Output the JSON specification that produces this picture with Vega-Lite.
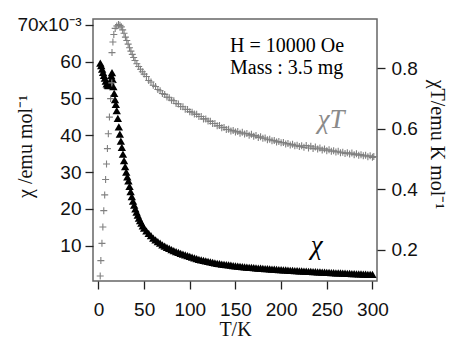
{
  "$schema": "https://vega.github.io/schema/vega-lite/v6.json",
  "width": 284,
  "height": 262,
  "autosize": {"type": "none"},
  "padding": {"left": 93, "top": 19, "right": 73, "bottom": 57},
  "config": {
    "font": "Liberation Serif",
    "view": {"stroke": "#666", "strokeWidth": 1.5},
    "style": {"guide-title": {"font": "Liberation Serif", "fontWeight": "normal"}, "guide-label": {"font": "Liberation Sans"}},
    "axis": {
      "domain": false,
      "grid": false,
      "tickColor": "#222",
      "tickWidth": 1.3,
      "tickSize": 8,
      "labelFont": "Liberation Sans",
      "labelFontSize": 19,
      "labelColor": "#111",
      "titleFont": "Liberation Serif",
      "titleFontSize": 20,
      "titleFontWeight": "normal",
      "titleColor": "#111"
    }
  },
  "datasets": {
    "chi": [
      {"T": 2, "chi": 0.0596}, {"T": 3, "chi": 0.0589}, {"T": 4, "chi": 0.058}, {"T": 5, "chi": 0.0571},
      {"T": 6, "chi": 0.0563}, {"T": 7, "chi": 0.0555}, {"T": 8, "chi": 0.0547}, {"T": 9, "chi": 0.054},
      {"T": 10, "chi": 0.0536}, {"T": 11, "chi": 0.0535}, {"T": 12, "chi": 0.0537}, {"T": 13, "chi": 0.0548},
      {"T": 14, "chi": 0.0562}, {"T": 14.8, "chi": 0.057}, {"T": 15.5, "chi": 0.0552}, {"T": 16.3, "chi": 0.0532},
      {"T": 17.2, "chi": 0.0514}, {"T": 18.1, "chi": 0.0497}, {"T": 19, "chi": 0.0484}, {"T": 20, "chi": 0.0467},
      {"T": 21.2, "chi": 0.0446}, {"T": 22.3, "chi": 0.0423}, {"T": 23.4, "chi": 0.0403}, {"T": 24.5, "chi": 0.0384},
      {"T": 25.6, "chi": 0.0367}, {"T": 26.8, "chi": 0.0349}, {"T": 28, "chi": 0.0331}, {"T": 29.2, "chi": 0.0315},
      {"T": 30.4, "chi": 0.03}, {"T": 31.6, "chi": 0.0287}, {"T": 32.8, "chi": 0.0276}, {"T": 34, "chi": 0.0261},
      {"T": 35.2, "chi": 0.0247}, {"T": 36.5, "chi": 0.0233}, {"T": 37.8, "chi": 0.0221}, {"T": 39.1, "chi": 0.021},
      {"T": 40.4, "chi": 0.02}, {"T": 41.7, "chi": 0.0191}, {"T": 43, "chi": 0.0183}, {"T": 44.3, "chi": 0.0175},
      {"T": 45.6, "chi": 0.0168}, {"T": 47, "chi": 0.0161}, {"T": 48.5, "chi": 0.0154}, {"T": 50, "chi": 0.0148},
      {"T": 52.5, "chi": 0.01405}, {"T": 55, "chi": 0.01335}, {"T": 57.5, "chi": 0.0127}, {"T": 60, "chi": 0.01205},
      {"T": 62.5, "chi": 0.0116}, {"T": 65, "chi": 0.0111}, {"T": 67.5, "chi": 0.0107}, {"T": 70, "chi": 0.01025},
      {"T": 72.5, "chi": 0.0099}, {"T": 75, "chi": 0.00955}, {"T": 77.5, "chi": 0.00925}, {"T": 80, "chi": 0.00895},
      {"T": 82.5, "chi": 0.00865}, {"T": 85, "chi": 0.0084}, {"T": 87.5, "chi": 0.00815}, {"T": 90, "chi": 0.0079},
      {"T": 92.5, "chi": 0.0077}, {"T": 95, "chi": 0.0075}, {"T": 97.5, "chi": 0.0073}, {"T": 100, "chi": 0.0071},
      {"T": 102.5, "chi": 0.0069}, {"T": 105, "chi": 0.0067}, {"T": 107.5, "chi": 0.0065}, {"T": 110, "chi": 0.0063},
      {"T": 112.5, "chi": 0.00615}, {"T": 115, "chi": 0.006}, {"T": 117.5, "chi": 0.00585}, {"T": 120, "chi": 0.0057},
      {"T": 122.5, "chi": 0.0056}, {"T": 125, "chi": 0.00545}, {"T": 127.5, "chi": 0.00535}, {"T": 130, "chi": 0.0052},
      {"T": 132.5, "chi": 0.0051}, {"T": 135, "chi": 0.005}, {"T": 137.5, "chi": 0.00492}, {"T": 140, "chi": 0.00485},
      {"T": 142.5, "chi": 0.00478}, {"T": 145, "chi": 0.0047}, {"T": 147.5, "chi": 0.0046}, {"T": 150, "chi": 0.0045},
      {"T": 152.5, "chi": 0.00444}, {"T": 155, "chi": 0.00438}, {"T": 157.5, "chi": 0.00431}, {"T": 160, "chi": 0.00425},
      {"T": 162.5, "chi": 0.00419}, {"T": 165, "chi": 0.00413}, {"T": 167.5, "chi": 0.00407}, {"T": 170, "chi": 0.00402},
      {"T": 172.5, "chi": 0.00397}, {"T": 175, "chi": 0.00392}, {"T": 177.5, "chi": 0.00387}, {"T": 180, "chi": 0.00383},
      {"T": 182.5, "chi": 0.00378}, {"T": 185, "chi": 0.00373}, {"T": 187.5, "chi": 0.00368}, {"T": 190, "chi": 0.00364},
      {"T": 192.5, "chi": 0.0036}, {"T": 195, "chi": 0.00356}, {"T": 197.5, "chi": 0.00352}, {"T": 200, "chi": 0.00348},
      {"T": 202.5, "chi": 0.00344}, {"T": 205, "chi": 0.0034}, {"T": 207.5, "chi": 0.00336}, {"T": 210, "chi": 0.00332},
      {"T": 212.5, "chi": 0.00328}, {"T": 215, "chi": 0.00324}, {"T": 217.5, "chi": 0.0032}, {"T": 220, "chi": 0.00317},
      {"T": 222.5, "chi": 0.00313}, {"T": 225, "chi": 0.0031}, {"T": 227.5, "chi": 0.00306}, {"T": 230, "chi": 0.00303},
      {"T": 232.5, "chi": 0.00299}, {"T": 235, "chi": 0.00296}, {"T": 237.5, "chi": 0.00292}, {"T": 240, "chi": 0.00289},
      {"T": 242.5, "chi": 0.00286}, {"T": 245, "chi": 0.00283}, {"T": 247.5, "chi": 0.0028}, {"T": 250, "chi": 0.00277},
      {"T": 252.5, "chi": 0.00273}, {"T": 255, "chi": 0.0027}, {"T": 257.5, "chi": 0.00267}, {"T": 260, "chi": 0.00264},
      {"T": 262.5, "chi": 0.00261}, {"T": 265, "chi": 0.00258}, {"T": 267.5, "chi": 0.00255}, {"T": 270, "chi": 0.00252},
      {"T": 272.5, "chi": 0.00249}, {"T": 275, "chi": 0.00246}, {"T": 277.5, "chi": 0.00243}, {"T": 280, "chi": 0.0024},
      {"T": 282.5, "chi": 0.00237}, {"T": 285, "chi": 0.00234}, {"T": 287.5, "chi": 0.00231}, {"T": 290, "chi": 0.00228},
      {"T": 292.5, "chi": 0.00225}, {"T": 295, "chi": 0.00223}, {"T": 297.5, "chi": 0.0022}, {"T": 300, "chi": 0.00218}
    ],
    "chiT": [
      {"T": 1.9, "chiT": 0.114}, {"T": 2.6, "chiT": 0.165}, {"T": 3.8, "chiT": 0.222}, {"T": 4.8, "chiT": 0.276},
      {"T": 5.8, "chiT": 0.33}, {"T": 6.8, "chiT": 0.382}, {"T": 7.8, "chiT": 0.433}, {"T": 8.8, "chiT": 0.484},
      {"T": 9.8, "chiT": 0.535}, {"T": 10.8, "chiT": 0.584}, {"T": 12, "chiT": 0.639}, {"T": 13.3, "chiT": 0.7},
      {"T": 14.6, "chiT": 0.752}, {"T": 14.8, "chiT": 0.852}, {"T": 15.8, "chiT": 0.887}, {"T": 16.8, "chiT": 0.912},
      {"T": 18.3, "chiT": 0.932}, {"T": 20, "chiT": 0.94}, {"T": 21.9, "chiT": 0.945}, {"T": 23.5, "chiT": 0.942},
      {"T": 25, "chiT": 0.937}, {"T": 26.5, "chiT": 0.927}, {"T": 28, "chiT": 0.916}, {"T": 29.5, "chiT": 0.903},
      {"T": 31, "chiT": 0.892}, {"T": 32.5, "chiT": 0.88}, {"T": 34, "chiT": 0.868}, {"T": 35.5, "chiT": 0.857},
      {"T": 37, "chiT": 0.846}, {"T": 38.5, "chiT": 0.836}, {"T": 40, "chiT": 0.826}, {"T": 42, "chiT": 0.815},
      {"T": 44, "chiT": 0.806}, {"T": 46, "chiT": 0.797}, {"T": 48, "chiT": 0.789}, {"T": 50, "chiT": 0.781},
      {"T": 52.5, "chiT": 0.773}, {"T": 55, "chiT": 0.76}, {"T": 57.5, "chiT": 0.755}, {"T": 60, "chiT": 0.744},
      {"T": 62.5, "chiT": 0.74}, {"T": 65, "chiT": 0.73}, {"T": 67.5, "chiT": 0.726}, {"T": 70, "chiT": 0.717},
      {"T": 72.5, "chiT": 0.714}, {"T": 75, "chiT": 0.705}, {"T": 77.5, "chiT": 0.703}, {"T": 80, "chiT": 0.695},
      {"T": 82.5, "chiT": 0.693}, {"T": 85, "chiT": 0.684}, {"T": 87.5, "chiT": 0.682}, {"T": 90, "chiT": 0.674},
      {"T": 92.5, "chiT": 0.673}, {"T": 95, "chiT": 0.665}, {"T": 97.5, "chiT": 0.664}, {"T": 100, "chiT": 0.657},
      {"T": 102.5, "chiT": 0.655}, {"T": 105, "chiT": 0.649}, {"T": 107.5, "chiT": 0.648}, {"T": 110, "chiT": 0.641},
      {"T": 112.5, "chiT": 0.641}, {"T": 115, "chiT": 0.633}, {"T": 117.5, "chiT": 0.633}, {"T": 120, "chiT": 0.626},
      {"T": 122.5, "chiT": 0.625}, {"T": 125, "chiT": 0.618}, {"T": 127.5, "chiT": 0.618}, {"T": 130, "chiT": 0.61},
      {"T": 132.5, "chiT": 0.611}, {"T": 135, "chiT": 0.604}, {"T": 137.5, "chiT": 0.605}, {"T": 140, "chiT": 0.598},
      {"T": 142.5, "chiT": 0.599}, {"T": 145, "chiT": 0.593}, {"T": 147.5, "chiT": 0.595}, {"T": 150, "chiT": 0.59},
      {"T": 152.5, "chiT": 0.591}, {"T": 155, "chiT": 0.586}, {"T": 157.5, "chiT": 0.589}, {"T": 160, "chiT": 0.583},
      {"T": 162.5, "chiT": 0.585}, {"T": 165, "chiT": 0.579}, {"T": 167.5, "chiT": 0.582}, {"T": 170, "chiT": 0.576},
      {"T": 172.5, "chiT": 0.578}, {"T": 175, "chiT": 0.572}, {"T": 177.5, "chiT": 0.574}, {"T": 180, "chiT": 0.569},
      {"T": 182.5, "chiT": 0.57}, {"T": 185, "chiT": 0.564}, {"T": 187.5, "chiT": 0.566}, {"T": 190, "chiT": 0.561},
      {"T": 192.5, "chiT": 0.562}, {"T": 195, "chiT": 0.557}, {"T": 197.5, "chiT": 0.558}, {"T": 200, "chiT": 0.554},
      {"T": 202.5, "chiT": 0.555}, {"T": 205, "chiT": 0.55}, {"T": 207.5, "chiT": 0.552}, {"T": 210, "chiT": 0.547},
      {"T": 212.5, "chiT": 0.549}, {"T": 215, "chiT": 0.544}, {"T": 217.5, "chiT": 0.546}, {"T": 220, "chiT": 0.542},
      {"T": 222.5, "chiT": 0.544}, {"T": 225, "chiT": 0.539}, {"T": 227.5, "chiT": 0.545}, {"T": 230, "chiT": 0.537},
      {"T": 232.5, "chiT": 0.543}, {"T": 235, "chiT": 0.535}, {"T": 237.5, "chiT": 0.54}, {"T": 240, "chiT": 0.534},
      {"T": 242.5, "chiT": 0.537}, {"T": 245, "chiT": 0.53}, {"T": 247.5, "chiT": 0.534}, {"T": 250, "chiT": 0.528},
      {"T": 252.5, "chiT": 0.531}, {"T": 255, "chiT": 0.526}, {"T": 257.5, "chiT": 0.528}, {"T": 260, "chiT": 0.524},
      {"T": 262.5, "chiT": 0.526}, {"T": 265, "chiT": 0.521}, {"T": 267.5, "chiT": 0.523}, {"T": 270, "chiT": 0.519},
      {"T": 272.5, "chiT": 0.521}, {"T": 275, "chiT": 0.517}, {"T": 277.5, "chiT": 0.52}, {"T": 280, "chiT": 0.515},
      {"T": 282.5, "chiT": 0.518}, {"T": 285, "chiT": 0.513}, {"T": 287.5, "chiT": 0.515}, {"T": 290, "chiT": 0.511},
      {"T": 292.5, "chiT": 0.513}, {"T": 295, "chiT": 0.508}, {"T": 297.5, "chiT": 0.511}, {"T": 300, "chiT": 0.506},
      {"T": 301.5, "chiT": 0.509}
    ],
    "info": [
      {"T": 144, "chi": 0.0626, "label": "H = 10000 Oe"},
      {"T": 144, "chi": 0.0567, "label": "Mass : 3.5 mg"}
    ],
    "labelChiT": [{"T": 240, "chi": 0.042, "label": "χT"}],
    "labelChi": [{"T": 239, "chi": 0.0099, "label": "χ"}]
  },
  "layer": [
    {
      "layer": [
        {
          "data": {"name": "chi"},
          "mark": {"type": "point", "shape": "triangle-up", "filled": true, "color": "#000", "size": 70, "opacity": 1},
          "encoding": {
            "x": {
              "field": "T", "type": "quantitative", "title": "T/K",
              "scale": {"domain": [-6, 305], "nice": false, "zero": false},
              "axis": {"values": [0, 50, 100, 150, 200, 250, 300], "title": "T/K", "titleFont": "Liberation Serif", "titleFontSize": 20, "labelPadding": 11, "titlePadding": 0}
            },
            "y": {
              "field": "chi", "type": "quantitative", "title": "χ /emu mol⁻¹",
              "scale": {"domain": [0.0004, 0.0716], "nice": false, "zero": false},
              "axis": {
                "orient": "left",
                "values": [0.01, 0.02, 0.03, 0.04, 0.05, 0.06, 0.07],
                "labelExpr": "datum.value > 0.0695 ? '70x10⁻³' : format(round(datum.value*1000), 'd')",
                "labelPadding": 4,
                "title": "χ /emu mol⁻¹",
                "titleFont": "Liberation Serif",
                "titleX": -58,
                "titleY": 127
              }
            }
          }
        },
        {
          "data": {"name": "info"},
          "mark": {"type": "text", "align": "left", "baseline": "alphabetic", "font": "Liberation Serif", "fontSize": 20, "color": "#000"},
          "encoding": {
            "x": {"field": "T", "type": "quantitative", "title": "T/K"},
            "y": {"field": "chi", "type": "quantitative", "title": "χ /emu mol⁻¹"},
            "text": {"field": "label"}
          }
        },
        {
          "data": {"name": "labelChiT"},
          "mark": {"type": "text", "align": "left", "baseline": "alphabetic", "font": "Liberation Serif", "fontStyle": "italic", "fontSize": 27, "color": "#8a8a8a"},
          "encoding": {
            "x": {"field": "T", "type": "quantitative", "title": "T/K"},
            "y": {"field": "chi", "type": "quantitative", "title": "χ /emu mol⁻¹"},
            "text": {"field": "label"}
          }
        },
        {
          "data": {"name": "labelChi"},
          "mark": {"type": "text", "align": "center", "baseline": "middle", "font": "Liberation Serif", "fontStyle": "italic", "fontSize": 27, "color": "#000"},
          "encoding": {
            "x": {"field": "T", "type": "quantitative", "title": "T/K"},
            "y": {"field": "chi", "type": "quantitative", "title": "χ /emu mol⁻¹"},
            "text": {"field": "label"}
          }
        }
      ]
    },
    {
      "data": {"name": "chiT"},
      "mark": {"type": "point", "shape": "M-1,0H1M0,-1V1", "filled": false, "stroke": "#808080", "strokeWidth": 1.1, "size": 49, "opacity": 1},
      "encoding": {
        "x": {"field": "T", "type": "quantitative", "title": "T/K"},
        "y": {
          "field": "chiT", "type": "quantitative", "title": "χT/emu K mol⁻¹",
          "scale": {"domain": [0.0976, 0.963], "nice": false, "zero": false},
          "axis": {
            "orient": "right",
            "values": [0.2, 0.4, 0.6, 0.8],
            "format": ".1f",
            "labelPadding": 6,
            "title": "χT/emu K mol⁻¹",
            "titleFont": "Liberation Serif",
            "titleX": 49,
            "titleY": 125
          }
        }
      }
    }
  ],
  "resolve": {"scale": {"y": "independent"}}
}
